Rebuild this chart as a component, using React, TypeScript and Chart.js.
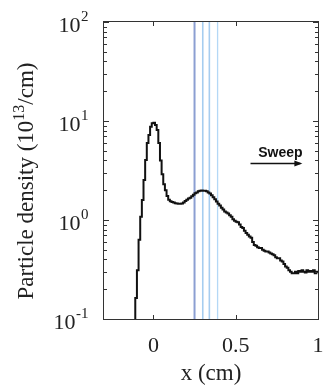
import React, { useEffect, useRef } from "react";
import { Chart, registerables } from "chart.js";

Chart.register(...registerables);

// Histogram bin left edges (cm) and particle density (10^13 /cm)
const BIN_X = [
  -0.12, -0.11, -0.1, -0.09, -0.08, -0.07, -0.06, -0.05, -0.04, -0.03, -0.02, -0.01,
  0.0, 0.01, 0.02, 0.03, 0.04, 0.05, 0.06, 0.07, 0.08, 0.09,
  0.1, 0.11, 0.12, 0.13, 0.14, 0.15, 0.16, 0.17, 0.18, 0.19,
  0.2, 0.21, 0.22, 0.23, 0.24, 0.25, 0.26, 0.27, 0.28, 0.29,
  0.3, 0.31, 0.32, 0.33, 0.34, 0.35, 0.36, 0.37, 0.38, 0.39,
  0.4, 0.41, 0.42, 0.43, 0.44, 0.45, 0.46, 0.47, 0.48, 0.49,
  0.5, 0.51, 0.52, 0.53, 0.54, 0.55, 0.56, 0.57, 0.58, 0.59,
  0.6, 0.61, 0.62, 0.63, 0.64, 0.65, 0.66, 0.67, 0.68, 0.69,
  0.7, 0.71, 0.72, 0.73, 0.74, 0.75, 0.76, 0.77, 0.78, 0.79,
  0.8, 0.81, 0.82, 0.83, 0.84, 0.85, 0.86, 0.87, 0.88, 0.89,
  0.9, 0.91, 0.92, 0.93, 0.94, 0.95, 0.96, 0.97, 0.98, 0.99, 1.0,
];
const DENSITY = [
  0.05, 0.163, 0.31, 0.63, 1.08, 1.59, 2.53, 4.03, 6.0, 7.2, 8.75, 9.5,
  9.6, 9.1, 8.1, 6.0, 4.0, 2.9, 2.3, 2.0, 1.75, 1.6,
  1.55, 1.52, 1.5, 1.48, 1.47, 1.46, 1.46, 1.47, 1.5, 1.56,
  1.6, 1.65, 1.68, 1.74, 1.8, 1.86, 1.9, 1.95, 1.98, 1.99,
  1.98, 1.97, 1.95, 1.9, 1.85, 1.78, 1.7, 1.62, 1.54, 1.46,
  1.4, 1.33, 1.28, 1.22, 1.19, 1.16, 1.12, 1.08, 1.02, 0.98,
  0.96, 0.95, 0.9, 0.85, 0.83, 0.78, 0.74, 0.71, 0.68, 0.66,
  0.6, 0.56, 0.55, 0.53, 0.52, 0.52, 0.5, 0.49, 0.48, 0.48,
  0.47, 0.46, 0.45, 0.44, 0.42, 0.41, 0.41, 0.39, 0.38, 0.36,
  0.34, 0.33, 0.31, 0.3, 0.29, 0.29, 0.3, 0.29, 0.305, 0.3,
  0.31, 0.3, 0.295, 0.31, 0.3, 0.305, 0.3, 0.31, 0.29, 0.3, 0.3,
];

// Vertical sweep marker lines
const MARKER_X = [0.25, 0.3, 0.34, 0.39];
const MARKER_COLORS = ["#8c9fd2", "#a6cdf0", "#a6cdf0", "#b4d8f6"];
const MARKER_WIDTHS = [2, 1.6, 1.6, 1.3];

// Axes
const X_MIN = -0.3;
const X_MAX = 1;
const X_TICKS = [0, 0.5, 1];
const Y_MIN = 0.1;
const Y_MAX = 100;
const Y_DECADES = [0.1, 1, 10, 100];
const Y_EXPONENTS = ["-1", "0", "1", "2"];
const Y_MINOR_MULT = [2, 3, 4, 5, 6, 7, 8, 9];

// Sweep annotation (data coords)
const SWEEP_LABEL = "Sweep";
const SWEEP_X = [0.59, 0.905];
const SWEEP_ARROW_Y = 3.77;
const SWEEP_TEXT_Y = 4.35;

const X_TITLE = "x (cm)";
const Y_TITLE = ["Particle density (10", "13", "/cm)"];

const SERIF = "'Liberation Serif', 'Times New Roman', serif";

const decorPlugin = {
  id: "decor",
  afterDatasetsDraw(chart: any) {
    const { ctx, chartArea: a, scales } = chart;
    const xs = scales.x;
    const ys = scales.y;
    ctx.save();
    // frame
    ctx.strokeStyle = "#333";
    ctx.lineWidth = 1;
    ctx.strokeRect(a.left - 0.5, a.top - 0.5, a.right - a.left + 1, a.bottom - a.top + 1);
    // x ticks, inward, top and bottom
    ctx.beginPath();
    for (const v of X_TICKS) {
      const px = Math.round(xs.getPixelForValue(v)) + 0.5;
      ctx.moveTo(px, a.bottom);
      ctx.lineTo(px, a.bottom - 4);
      ctx.moveTo(px, a.top);
      ctx.lineTo(px, a.top + 4);
    }
    // y ticks
    for (let d = 0; d < Y_DECADES.length; d++) {
      const dv = Y_DECADES[d];
      const py = Math.round(ys.getPixelForValue(dv)) + 0.5;
      ctx.moveTo(a.left, py);
      ctx.lineTo(a.left + 5, py);
      ctx.moveTo(a.right, py);
      ctx.lineTo(a.right - 5, py);
      if (d < Y_DECADES.length - 1) {
        for (const m of Y_MINOR_MULT) {
          const my = Math.round(ys.getPixelForValue(dv * m)) + 0.5;
          ctx.moveTo(a.left, my);
          ctx.lineTo(a.left + 3, my);
          ctx.moveTo(a.right, my);
          ctx.lineTo(a.right - 3, my);
        }
      }
    }
    ctx.stroke();

    // y tick labels 10^n
    ctx.fillStyle = "#222";
    ctx.textBaseline = "alphabetic";
    ctx.textAlign = "left";
    for (let d = 0; d < Y_DECADES.length; d++) {
      const py = ys.getPixelForValue(Y_DECADES[d]);
      ctx.font = `22px ${SERIF}`;
      const wb = ctx.measureText("10").width;
      ctx.font = `15px ${SERIF}`;
      const we = ctx.measureText(Y_EXPONENTS[d]).width;
      const right = a.left - 16;
      const x0 = right - we - wb;
      ctx.font = `22px ${SERIF}`;
      ctx.fillText("10", x0, py + 10);
      ctx.font = `15px ${SERIF}`;
      ctx.fillText(Y_EXPONENTS[d], x0 + wb + 0.5, py - 1);
    }

    // y title
    ctx.save();
    ctx.translate(33, 181);
    ctx.rotate(-Math.PI / 2);
    ctx.font = `23px ${SERIF}`;
    const w1 = ctx.measureText(Y_TITLE[0]).width;
    const w3 = ctx.measureText(Y_TITLE[2]).width;
    ctx.font = `16px ${SERIF}`;
    const w2 = ctx.measureText(Y_TITLE[1]).width;
    let tx = -(w1 + w2 + w3) / 2;
    ctx.font = `23px ${SERIF}`;
    ctx.fillText(Y_TITLE[0], tx, 0);
    tx += w1;
    ctx.font = `16px ${SERIF}`;
    ctx.fillText(Y_TITLE[1], tx, -9);
    tx += w2;
    ctx.font = `23px ${SERIF}`;
    ctx.fillText(Y_TITLE[2], tx, 0);
    ctx.restore();

    // Sweep arrow
    const ax0 = xs.getPixelForValue(SWEEP_X[0]);
    const ax1 = xs.getPixelForValue(SWEEP_X[1]);
    const ay = Math.round(ys.getPixelForValue(SWEEP_ARROW_Y)) + 0.5;
    ctx.strokeStyle = "#111";
    ctx.lineWidth = 1.5;
    ctx.beginPath();
    ctx.moveTo(ax0, ay);
    ctx.lineTo(ax1 - 2, ay);
    ctx.stroke();
    ctx.fillStyle = "#111";
    ctx.beginPath();
    ctx.moveTo(ax1, ay);
    ctx.lineTo(ax1 - 8, ay - 3);
    ctx.lineTo(ax1 - 8, ay + 3);
    ctx.closePath();
    ctx.fill();
    ctx.font = "bold 14px 'Liberation Sans', Arial, sans-serif";
    ctx.textAlign = "center";
    const tcx = (xs.getPixelForValue(SWEEP_X[0]) + xs.getPixelForValue(SWEEP_X[1])) / 2 + 4;
    ctx.fillText(SWEEP_LABEL, tcx, ys.getPixelForValue(SWEEP_TEXT_Y));
    ctx.restore();
  },
};

export default function App() {
  const ref = useRef<HTMLCanvasElement | null>(null);
  useEffect(() => {
    if (!ref.current) return;
    const curve = BIN_X.map((x, i) => ({ x, y: DENSITY[i] }));
    const markers = MARKER_X.map((mx, i) => ({
      data: [
        { x: mx, y: Y_MIN },
        { x: mx, y: Y_MAX },
      ],
      borderColor: MARKER_COLORS[i],
      borderWidth: MARKER_WIDTHS[i],
      pointRadius: 0,
      order: 2,
    }));
    const chart = new Chart(ref.current, {
      type: "line",
      data: {
        datasets: [
          {
            data: curve,
            borderColor: "#111",
            borderWidth: 2,
            pointRadius: 0,
            stepped: "before",
            order: 0,
          } as any,
          ...markers,
        ],
      },
      options: {
        animation: false,
        responsive: true,
        maintainAspectRatio: false,
        layout: { padding: { top: 22, right: 15, left: 0, bottom: 0 } },
        plugins: { legend: { display: false }, tooltip: { enabled: false } },
        scales: {
          x: {
            type: "linear",
            min: X_MIN,
            max: X_MAX,
            grid: { display: false },
            border: { display: false },
            afterBuildTicks: (s: any) => {
              s.ticks = X_TICKS.map((v) => ({ value: v }));
            },
            afterFit: (s: any) => {
              s.height = 71;
            },
            ticks: {
              padding: 6,
              color: "#222",
              font: { family: SERIF, size: 22 },
              maxRotation: 0,
              autoSkip: false,
              callback: (v: any) => String(v),
            },
            title: {
              display: true,
              text: X_TITLE,
              color: "#222",
              font: { family: SERIF, size: 23 },
              padding: { top: 0, bottom: 2 },
            },
          },
          y: {
            type: "logarithmic",
            min: Y_MIN,
            max: Y_MAX,
            grid: { display: false },
            border: { display: false },
            ticks: { display: false },
            afterFit: (s: any) => {
              s.width = 104;
            },
          },
        },
      },
      plugins: [decorPlugin],
    });
    return () => chart.destroy();
  }, []);
  return (
    <div style={{ position: "absolute", left: 0, top: 0, width: 333, height: 390, background: "#fff" }}>
      <canvas ref={ref} />
    </div>
  );
}
